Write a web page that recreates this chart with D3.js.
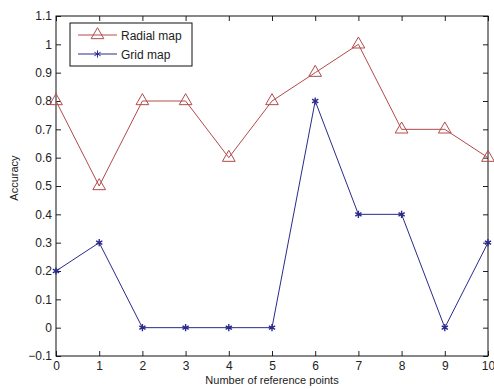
<!DOCTYPE html>
<html>
<head>
<meta charset="utf-8">
<script src="https://cdn.jsdelivr.net/npm/d3@7"></script>
<style>
  body { margin: 0; background: #fff; }
  text { font-family: Arial, "Liberation Sans", sans-serif; }
</style>
</head>
<body>
<div id="chart"></div>
<script>
// chart data
let refPoints = [0, 1, 2, 3, 4, 5, 6, 7, 8, 9, 10];
let radialMap = [0.8, 0.5, 0.8, 0.8, 0.6, 0.8, 0.9, 1.0, 0.7, 0.7, 0.6];
let gridMap = [0.2, 0.3, 0, 0, 0, 0, 0.8, 0.4, 0.4, 0, 0.3];
let yTicks = [-0.1, 0, 0.1, 0.2, 0.3, 0.4, 0.5, 0.6, 0.7, 0.8, 0.9, 1, 1.1];

let W = 494, H = 389;
let margin = {top: 16, right: 6, bottom: 33, left: 56};
let width = W - margin.left - margin.right;
let height = H - margin.top - margin.bottom;

let svg = d3.select("#chart").append("svg")
    .attr("width", W)
    .attr("height", H)
    .append("g")
    .attr("transform", `translate(${margin.left},${margin.top})`);

let x = d3.scaleLinear().domain([0, 10]).range([0, width]);
let y = d3.scaleLinear().domain([-0.1, 1.1]).range([height, 0]);

// axes, matlab style: ticks pointing inward, box on all sides
let fmt = d => d3.format("")(Math.round(d * 10) / 10);
svg.append("g")
    .attr("transform", `translate(0,${height})`)
    .call(d3.axisBottom(x).tickValues(refPoints).tickSizeInner(-5).tickSizeOuter(0).tickPadding(5))
    .call(g => g.select(".domain").remove());
svg.append("g")
    .call(d3.axisLeft(y).tickValues(yTicks).tickFormat(fmt).tickSizeInner(-5).tickSizeOuter(0).tickPadding(4))
    .call(g => g.select(".domain").remove());
svg.append("g")
    .call(d3.axisTop(x).tickValues(refPoints).tickSizeInner(-5).tickSizeOuter(0).tickFormat(""))
    .call(g => g.select(".domain").remove());
svg.append("g")
    .attr("transform", `translate(${width},0)`)
    .call(d3.axisRight(y).tickValues(yTicks).tickSizeInner(-5).tickSizeOuter(0).tickFormat(""))
    .call(g => g.select(".domain").remove());

svg.selectAll(".tick text").style("font-size", "12px").attr("fill", "#222");
svg.selectAll(".tick line").attr("stroke", "#222");

svg.append("rect")
    .attr("width", width).attr("height", height)
    .attr("fill", "none").attr("stroke", "#111").attr("stroke-width", 1);

// lines
let redC = "#b34a4a", blueC = "#2a2a8c";
let line = d3.line().x((d, i) => x(refPoints[i])).y(d => y(d));

svg.append("path").datum(radialMap)
    .attr("d", line).attr("fill", "none").attr("stroke", redC).attr("stroke-width", 1);
svg.append("path").datum(gridMap)
    .attr("d", line).attr("fill", "none").attr("stroke", blueC).attr("stroke-width", 1);

let tri = d3.symbol().type(d3.symbolTriangle).size(70);
let star = d3.symbol().type(d3.symbolAsterisk).size(36);

svg.selectAll(".tri").data(radialMap).enter().append("path")
    .attr("transform", (d, i) => `translate(${x(refPoints[i])},${y(d)})`)
    .attr("d", tri).attr("fill", "none").attr("stroke", redC);

svg.selectAll(".star").data(gridMap).enter().append("path")
    .attr("transform", (d, i) => `translate(${x(refPoints[i])},${y(d)})`)
    .attr("d", star).attr("fill", blueC).attr("stroke", blueC).attr("stroke-width", 1.4);

// legend
let legend = svg.append("g").attr("transform", "translate(14,7)");
legend.append("rect").attr("width", 122).attr("height", 43)
    .attr("fill", "#fff").attr("stroke", "#111");
let items = [{name: "Radial map", c: redC, sym: tri, fill: "none"},
             {name: "Grid map", c: blueC, sym: star, fill: blueC}];
items.forEach((it, i) => {
    let yy = 12 + i * 19;
    legend.append("line").attr("x1", 8).attr("x2", 47).attr("y1", yy).attr("y2", yy)
        .attr("stroke", it.c);
    legend.append("path").attr("transform", `translate(27.5,${yy})`)
        .attr("d", it.sym).attr("fill", it.fill).attr("stroke", it.c);
    legend.append("text").attr("x", 51).attr("y", yy + 4.5)
        .style("font-size", "12px").attr("fill", "#222").text(it.name);
});

// axis titles
svg.append("text")
    .attr("x", width / 2).attr("y", height + 28)
    .attr("text-anchor", "middle").style("font-size", "11px").attr("fill", "#222")
    .text("Number of reference points");
svg.append("text")
    .attr("transform", `translate(${-38},${height / 2 - 8}) rotate(-90)`)
    .attr("text-anchor", "middle").style("font-size", "11px").attr("fill", "#222")
    .text("Accuracy");
</script>
</body>
</html>
